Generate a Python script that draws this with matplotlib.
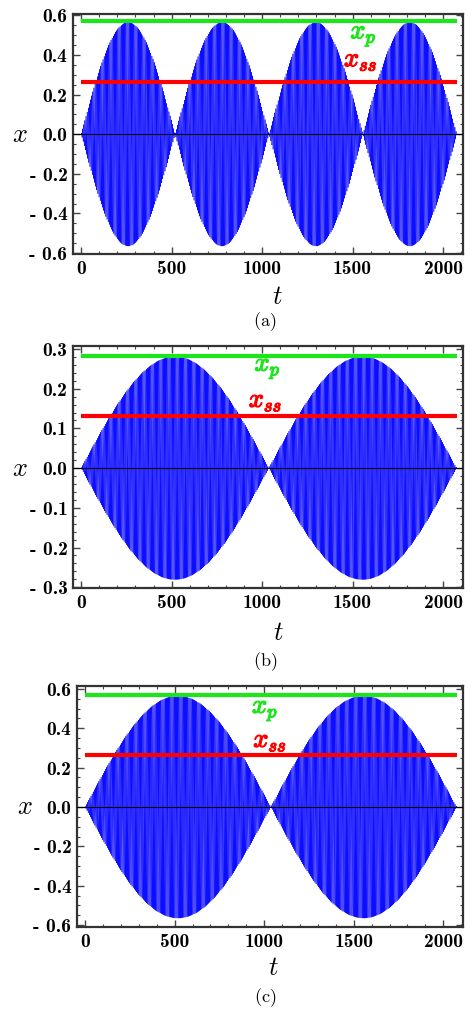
import numpy as np
import matplotlib
matplotlib.use("Agg")
import matplotlib.pyplot as plt
import matplotlib.patheffects as pe
from matplotlib.ticker import MultipleLocator, FuncFormatter

plt.rcParams['mathtext.fontset'] = 'cm'
plt.rcParams['font.family'] = 'serif'
plt.rcParams['axes.unicode_minus'] = False

# values, one entry per panel (a), (b), (c)
panel_names = ['(a)', '(b)', '(c)']
x_p = [0.57, 0.283, 0.57]          # green line
x_ss = [0.265, 0.131, 0.265]       # red line
envelope_amp = [0.565, 0.281, 0.565]
beat_zero_spacing = [519.0, 1037.0, 1037.0]   # t between envelope zeros
carrier_omega = [1.0, 1.0, 1.0]
t_end = 2075.0
y_lims = [(-0.605, 0.607), (-0.302, 0.3075), (-0.61, 0.615)]
y_major = [0.2, 0.1, 0.2]
y_minor = [0.05, 0.02, 0.05]
xp_label_pos = [(1560, 0.484), (1030, 0.245), (1005, 0.478)]
xss_label_pos = [(1545, 0.343), (1019, 0.154), (1033, 0.305)]
t_label_pos = [(0.523, -0.179), (0.526, -0.182), (0.508, -0.166)]

# axes rectangles in pixels: left, top, right, bottom
ax_px = [(73, 14, 463, 254), (73, 346, 463, 588), (77, 686, 463, 927)]
caption_y = [322, 662, 998]

W, H = 473, 1009
fig = plt.figure(figsize=(W / 100, H / 100), dpi=100)

t = np.linspace(0, t_end, 60000)
green = (0.1, 0.9, 0.1)
red = (1, 0, 0)
bold_fx = lambda c: [pe.withStroke(linewidth=0.9, foreground=c)]


def ytick_fmt(v, p):
    s = '%.1f' % abs(v)
    return '- ' + s if v < -1e-9 else s


for i in range(3):
    l, tp, r, b = ax_px[i]
    ax = fig.add_axes([l / W, 1 - b / H, (r - l) / W, (b - tp) / H])
    sig = envelope_amp[i] * np.sin(np.pi * t / beat_zero_spacing[i]) * np.sin(carrier_omega[i] * t)
    ax.plot(t, sig, color=(0, 0, 1), lw=0.34)
    ax.axhline(0, color='black', lw=0.8, zorder=3)
    ax.plot([0, t_end], [x_p[i], x_p[i]], color=green, lw=3.0, solid_capstyle='butt', zorder=4)
    ax.plot([0, t_end], [x_ss[i], x_ss[i]], color=red, lw=3.0, solid_capstyle='butt', zorder=4)
    ax.text(*xp_label_pos[i], r'$x_p$', color=green, fontsize=19,
            ha='center', va='baseline', zorder=5, path_effects=bold_fx(green))
    ax.text(*xss_label_pos[i], r'$x_{ss}$', color=red, fontsize=19,
            ha='center', va='baseline', zorder=5, path_effects=bold_fx(red))

    ax.set_xlim(-45, 2110)
    ax.set_ylim(*y_lims[i])
    ax.xaxis.set_major_locator(MultipleLocator(500))
    ax.xaxis.set_minor_locator(MultipleLocator(100))
    ax.yaxis.set_major_locator(MultipleLocator(y_major[i]))
    ax.yaxis.set_minor_locator(MultipleLocator(y_minor[i]))
    ax.xaxis.set_major_formatter(FuncFormatter(lambda v, p: '%d' % round(v)))
    ax.yaxis.set_major_formatter(FuncFormatter(ytick_fmt))
    ax.tick_params(which='both', direction='in', top=True, right=True, color='#444444')
    ax.tick_params(which='major', length=5, width=1.0, pad=4)
    ax.tick_params(which='minor', length=2.5, width=0.8)
    for lab in ax.get_xticklabels() + ax.get_yticklabels():
        lab.set_fontfamily('cmb10')
        lab.set_fontsize(14)
    for s in ax.spines.values():
        s.set_linewidth(1.6)
        s.set_color('#333333')

    ax.set_xlabel('$t$', fontsize=19, va='center')
    ax.xaxis.set_label_coords(*t_label_pos[i])
    ax.set_ylabel('$x$', fontsize=19, rotation=0, va='center', ha='center')
    ax.yaxis.set_label_coords(-0.135, -y_lims[i][0] / (y_lims[i][1] - y_lims[i][0]))

    fig.text(265 / W, 1 - caption_y[i] / H, r'$\mathrm{' + panel_names[i] + '}$', fontsize=13,
             ha='center', va='center')

fig.savefig('out.png', dpi=100)
